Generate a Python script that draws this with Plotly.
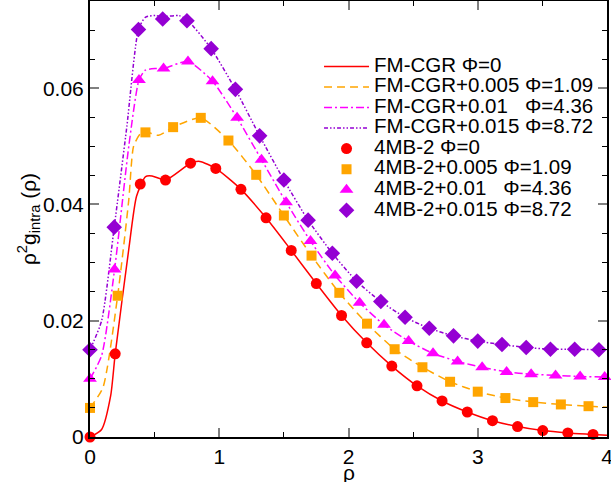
import plotly.graph_objects as go

# ---------------- data ----------------
# 4MB-2 simulation points
x_4mb_0 = [0, 0.195, 0.389, 0.584, 0.778, 0.973, 1.168, 1.362, 1.557, 1.751, 1.946,
           2.141, 2.335, 2.530, 2.724, 2.919, 3.114, 3.308, 3.503, 3.697, 3.892]
y_4mb_0 = [0.0, 0.0143, 0.0435, 0.0442, 0.0471, 0.0462, 0.0426, 0.0377, 0.0321, 0.0264, 0.0209,
           0.0162, 0.0122, 0.0088, 0.0062, 0.0043, 0.0028, 0.0018, 0.0011, 0.0007, 0.00045]

x_4mb_005 = [0, 0.214, 0.429, 0.643, 0.857, 1.071, 1.286, 1.500, 1.714, 1.929,
             2.143, 2.357, 2.572, 2.786, 3.000, 3.214, 3.429, 3.643, 3.857]
y_4mb_005 = [0.005, 0.0243, 0.0524, 0.0533, 0.0549, 0.0510, 0.0451, 0.0381, 0.0312, 0.0248,
             0.0195, 0.0151, 0.0120, 0.0095, 0.0078, 0.0067, 0.0060, 0.0056, 0.0053]

x_4mb_01 = [0, 0.190, 0.379, 0.569, 0.758, 0.948, 1.138, 1.327, 1.517, 1.706, 1.896,
            2.086, 2.275, 2.465, 2.654, 2.844, 3.034, 3.223, 3.413, 3.602, 3.792, 3.982]
y_4mb_01 = [0.010, 0.0288, 0.0614, 0.0634, 0.0646, 0.0612, 0.0549, 0.0477, 0.0404, 0.0337, 0.0278,
            0.0231, 0.0193, 0.0165, 0.0144, 0.0130, 0.0120, 0.0112, 0.0108, 0.0106, 0.0104, 0.0103]

x_4mb_015 = [0, 0.1875, 0.375, 0.5625, 0.75, 0.9375, 1.125, 1.3125, 1.5, 1.6875, 1.875,
             2.0625, 2.25, 2.4375, 2.625, 2.8125, 3.0, 3.1875, 3.375, 3.5625, 3.75, 3.9375]
y_4mb_015 = [0.015, 0.0361, 0.0701, 0.0719, 0.0716, 0.0668, 0.0598, 0.0518, 0.0442, 0.0373, 0.0316,
             0.0268, 0.0233, 0.0206, 0.0187, 0.0174, 0.0165, 0.0159, 0.0154, 0.0151, 0.0151, 0.0150]

# FM-CGR theory curves
x_fm_0 = [0, 0.09, 0.16, 0.195, 0.30, 0.36, 0.43, 0.48, 0.584, 0.778, 0.85, 0.973, 1.168, 1.362,
          1.557, 1.751, 1.946, 2.141, 2.335, 2.530, 2.724, 2.919, 3.114, 3.308, 3.503, 3.697,
          3.892, 4.0]
y_fm_0 = [0.0, 0.0013, 0.0071, 0.0143, 0.0323, 0.0414, 0.0448, 0.0449, 0.0442, 0.0471, 0.0474,
          0.0462, 0.0426, 0.0377, 0.0321, 0.0264, 0.0209, 0.0162, 0.0122, 0.0088, 0.0062, 0.0043,
          0.0028, 0.0018, 0.0011, 0.0007, 0.00045, 0.0003]

x_fm_005 = [0, 0.10, 0.214, 0.30, 0.337, 0.39, 0.429, 0.53, 0.643, 0.857, 1.071, 1.286, 1.500,
            1.714, 1.929, 2.143, 2.357, 2.572, 2.786, 3.000, 3.214, 3.429, 3.643, 3.857, 4.0]
y_fm_005 = [0.005, 0.0085, 0.0243, 0.0408, 0.0500, 0.0522, 0.0525, 0.0519, 0.0533, 0.0549, 0.0510,
            0.0451, 0.0381, 0.0312, 0.0248, 0.0195, 0.0151, 0.0120, 0.0095, 0.0078, 0.0067,
            0.0060, 0.0056, 0.0053, 0.0051]

x_fm_01 = [0, 0.09, 0.190, 0.30, 0.379, 0.428, 0.506, 0.569, 0.758, 0.948, 1.138, 1.327, 1.517,
           1.706, 1.896, 2.086, 2.275, 2.465, 2.654, 2.844, 3.034, 3.223, 3.413, 3.602, 3.792,
           3.982, 4.0]
y_fm_01 = [0.010, 0.0140, 0.0288, 0.0500, 0.0614, 0.0631, 0.0634, 0.0634, 0.0646, 0.0612, 0.0549,
           0.0477, 0.0404, 0.0337, 0.0278, 0.0231, 0.0193, 0.0165, 0.0144, 0.0130, 0.0120, 0.0112,
           0.0108, 0.0106, 0.0104, 0.0103, 0.0102]

x_fm_015 = [0, 0.09, 0.1875, 0.285, 0.375, 0.428, 0.506, 0.5625, 0.687, 0.75, 0.9375, 1.125,
            1.3125, 1.5, 1.6875, 1.875, 2.0625, 2.25, 2.4375, 2.625, 2.8125, 3.0, 3.1875, 3.375,
            3.5625, 3.75, 3.9375, 4.0]
y_fm_015 = [0.015, 0.0200, 0.0361, 0.0534, 0.0701, 0.0722, 0.0725, 0.0723, 0.0725, 0.0718, 0.0668,
            0.0598, 0.0518, 0.0442, 0.0373, 0.0316, 0.0268, 0.0233, 0.0206, 0.0187, 0.0174, 0.0165,
            0.0159, 0.0154, 0.0151, 0.0151, 0.0150, 0.0150]

names_fm = ["FM-CGR Φ=0", "FM-CGR+0.005 Φ=1.09",
            "FM-CGR+0.01\u00a0\u00a0 Φ=4.36", "FM-CGR+0.015 Φ=8.72"]
names_4mb = ["4MB-2 Φ=0", "4MB-2+0.005 Φ=1.09",
             "4MB-2+0.01\u00a0\u00a0 Φ=4.36", "4MB-2+0.015 Φ=8.72"]

x_ticks = [0, 1, 2, 3, 4]
y_ticks = [0, 0.02, 0.04, 0.06]
y_ticktext = ["0", "0.02", "0.04", "0.06"]

colors = ["#ff0000", "#ffa500", "#ff00ff", "#9400d3"]
dashes = ["solid", "8px,5px", "8px,3px,2px,3px", "4px,2px,1.5px,2px,1.5px,2px"]
symbols = ["circle", "square", "triangle-up", "diamond"]
msizes = [11, 10, 12, 12]

fm_x = [x_fm_0, x_fm_005, x_fm_01, x_fm_015]
fm_y = [y_fm_0, y_fm_005, y_fm_01, y_fm_015]
mb_x = [x_4mb_0, x_4mb_005, x_4mb_01, x_4mb_015]
mb_y = [y_4mb_0, y_4mb_005, y_4mb_01, y_4mb_015]

FONT = "Liberation Sans, Arial, sans-serif"


def big(s):
    return '<span style="font-size:20.5px">' + s + '</span>'


fig = go.Figure()
for i in range(4):
    fig.add_trace(go.Scatter(
        x=fm_x[i], y=fm_y[i], mode="lines", name=big(names_fm[i]),
        line=dict(color=colors[i], width=1.5, dash=dashes[i], shape="spline", smoothing=0.6),
    ))
for i in range(4):
    fig.add_trace(go.Scatter(
        x=mb_x[i], y=mb_y[i], mode="markers", name=big(names_4mb[i]),
        marker=dict(color=colors[i], symbol=symbols[i], size=msizes[i], line=dict(width=0)),
        cliponaxis=False,
    ))

axis_common = dict(
    showline=True, linecolor="black", linewidth=2, mirror="allticks",
    ticks="inside", ticklen=9, tickwidth=2, tickcolor="#808080",
    showgrid=False, zeroline=False, automargin=False, ticklabeloverflow="allow",
    tickfont=dict(family=FONT, size=21, color="black"),
)

fig.update_xaxes(
    range=[0, 4], tickmode="array", tickvals=x_ticks, ticktext=[str(v) for v in x_ticks],
    minor=dict(dtick=0.5, ticks="inside", ticklen=5, tickwidth=1, tickcolor="black"),
    **axis_common,
)
fig.update_yaxes(
    range=[0, 0.075], tickmode="array", tickvals=y_ticks, ticktext=y_ticktext,
    minor=dict(dtick=0.005, ticks="inside", ticklen=5, tickwidth=1, tickcolor="black"),
    title=dict(text="ρ<sup>2</sup>g<sub>intra</sub> (ρ)", font=dict(family=FONT, size=21, color="black"),
               standoff=0),
    **axis_common,
)

# x-axis title
fig.add_annotation(
    text="ρ", xref="paper", yref="paper", x=0.5, y=0, xanchor="center", yanchor="top",
    yshift=-22, showarrow=False, font=dict(family=FONT, size=21, color="black"),
)

fig.update_layout(
    width=611, height=482,
    margin=dict(l=90, r=4, t=1, b=45),
    paper_bgcolor="white", plot_bgcolor="white",
    font=dict(family=FONT, color="black"),
    legend=dict(
        x=0.443, y=0.885, xanchor="left", yanchor="top",
        font=dict(family=FONT, size=13.5, color="black"),
        bgcolor="rgba(0,0,0,0)", borderwidth=0, itemwidth=45, tracegroupgap=0,
    ),
    showlegend=True,
)

fig.write_html("out.html", config={"displayModeBar": False},
               post_script="document.body.style.margin='0';document.body.style.overflow='hidden';")
